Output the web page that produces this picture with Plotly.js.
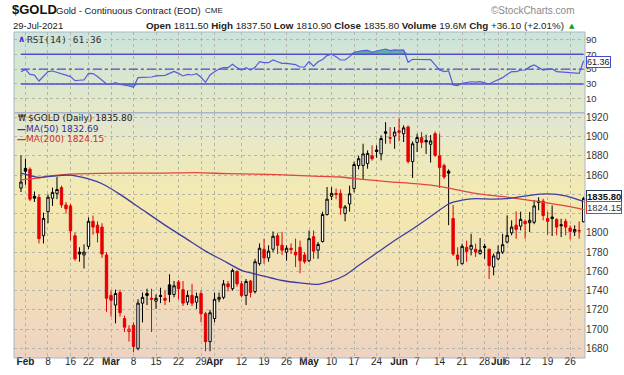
<!DOCTYPE html>
<html><head><meta charset="utf-8">
<script src="https://cdn.plot.ly/plotly-3.0.1.min.js"></script>
<style>html,body{margin:0;padding:0;background:#fff;}#chart{width:624px;height:375px;}</style>
</head><body><div id="chart"></div>
<script>
// ---------- DATA ----------
const dates = [
"2021-01-29",
"2021-02-01","2021-02-02","2021-02-03","2021-02-04","2021-02-05",
"2021-02-08","2021-02-09","2021-02-10","2021-02-11","2021-02-12",
"2021-02-16","2021-02-17","2021-02-18","2021-02-19",
"2021-02-22","2021-02-23","2021-02-24","2021-02-25","2021-02-26",
"2021-03-01","2021-03-02","2021-03-03","2021-03-04","2021-03-05",
"2021-03-08","2021-03-09","2021-03-10","2021-03-11","2021-03-12",
"2021-03-15","2021-03-16","2021-03-17","2021-03-18","2021-03-19",
"2021-03-22","2021-03-23","2021-03-24","2021-03-25","2021-03-26",
"2021-03-29","2021-03-30","2021-03-31","2021-04-01",
"2021-04-05","2021-04-06","2021-04-07","2021-04-08","2021-04-09",
"2021-04-12","2021-04-13","2021-04-14","2021-04-15","2021-04-16",
"2021-04-19","2021-04-20","2021-04-21","2021-04-22","2021-04-23",
"2021-04-26","2021-04-27","2021-04-28","2021-04-29","2021-04-30",
"2021-05-03","2021-05-04","2021-05-05","2021-05-06","2021-05-07",
"2021-05-10","2021-05-11","2021-05-12","2021-05-13","2021-05-14",
"2021-05-17","2021-05-18","2021-05-19","2021-05-20","2021-05-21",
"2021-05-24","2021-05-25","2021-05-26","2021-05-27","2021-05-28",
"2021-06-01","2021-06-02","2021-06-03","2021-06-04",
"2021-06-07","2021-06-08","2021-06-09","2021-06-10","2021-06-11",
"2021-06-14","2021-06-15","2021-06-16","2021-06-17","2021-06-18",
"2021-06-21","2021-06-22","2021-06-23","2021-06-24","2021-06-25",
"2021-06-28","2021-06-29","2021-06-30","2021-07-01","2021-07-02",
"2021-07-06","2021-07-07","2021-07-08","2021-07-09",
"2021-07-12","2021-07-13","2021-07-14","2021-07-15","2021-07-16",
"2021-07-19","2021-07-20","2021-07-21","2021-07-22","2021-07-23",
"2021-07-26","2021-07-27","2021-07-28","2021-07-29"];

const open = [1846.5,
1867,1866,1838,1837,1797, 1822,1836,1841,1847,1829, 1828,1797,1780,1777, 1786,1812,1808,1806,1777,
1735,1725,1738,1711,1697.5, 1704,1680,1727,1737,1732, 1729,1735,1732,1746,1736, 1749,1741,1728,1735,1728,
1737,1716,1687,1711, 1731,1733,1747,1742,1760, 1747,1735,1750,1739,1768, 1783,1774,1783,1797,1787,
1780,1784,1780,1785,1777, 1771,1796,1782,1791,1819, 1838,1841,1841,1820,1830, 1846,1870,1870,1872,1880,
1886,1882,1905,1899,1900.6, 1906,1903,1910,1874, 1894,1899,1896,1892,1903, 1880,1870,1864,1815,1777,
1768,1785,1783,1783,1778.5, 1786,1783,1764.5,1773,1780, 1790.4,1800,1808,1807, 1812,1810.5,1811,1833,1833,
1815,1816.5,1814,1808.5,1812, 1805,1801,1802.5,1811.5];

const high = [1880.5,
1877,1868,1843,1840,1821, 1840,1847,1858,1849,1832, 1830,1800,1785,1788, 1816,1818,1812,1810,1780,
1740,1741,1741,1714,1704, 1707,1731,1738,1742,1742, 1736,1743,1740,1757,1750, 1751,1750,1740,1747,1738,
1740,1718,1720,1738, 1738,1751,1750,1763,1761, 1750,1752,1751,1773,1789, 1794,1787,1801.5,1800,1801,
1787,1789,1794,1792,1780, 1802.5,1802.5,1790.5,1822,1847.6, 1847.6,1846,1845,1829,1849, 1874,1880,1892.6,1885.7,1890.9,
1890.9,1901.3,1915,1909.9,1909.9, 1919,1911.6,1911.6,1895, 1903,1904.7,1902,1901.5,1905.4, 1903,1872,1866,1829,1785,
1788.7,1792,1799,1788.7,1794.6, 1788.7,1783.5,1778.5,1787,1799, 1818,1813,1822.3,1822, 1814,1821.6,1834,1837,1835.5,
1822,1828.5,1815,1814.6,1814.6, 1807.8,1807.8,1811.9,1837.5];

const low = [1842.4,
1850,1833,1832,1789,1789, 1810,1828,1835,1826,1820, 1792,1771,1770,1763, 1783,1798,1790,1774,1718,
1713,1706,1713,1697,1687, 1676,1678,1707,1725,1697, 1721,1727,1725,1728,1733, 1731,1724,1725,1724,1721,
1707,1677,1677,1707, 1728,1731,1739,1740,1744, 1733,1725,1733,1737,1766, 1768,1770,1780,1778,1777,
1771,1778,1764.5,1758,1768, 1769.6,1773,1773,1790,1818, 1834,1835,1818.8,1812,1822, 1842,1866,1856,1866.6,1875,
1878,1875.3,1892.6,1892.6,1887.4, 1895,1894.3,1872,1857, 1884,1888,1882,1873,1879, 1846.6,1856,1808,1776,1765.5,
1767,1770,1776.6,1775,1777.3, 1773,1752,1755.8,1771.4,1778, 1789,1797.4,1793.9,1802.6, 1793.9,1800.8,1809,1823.4,1813,
1798,1796.7,1797.4,1795.6,1797.4, 1793.2,1796.7,1793.9,1810.9];

const close = [1852.8,
1864,1835,1836,1794,1815, 1837,1842,1845,1829,1825, 1802,1773,1778,1780, 1812,1806,1800,1778,1732,
1730,1737,1717,1702,1700, 1682,1727,1733,1735,1731, 1732,1734,1730,1736,1745, 1742,1727,1735,1727,1734,
1716,1687,1717,1731, 1733,1747,1744,1761,1747, 1735,1749.5,1738,1770,1784, 1774,1781,1796.5,1787,1782,
1784,1782.5,1777,1771,1770, 1794,1781,1788,1819,1835, 1841,1840,1826,1827,1840.6, 1871,1877,1882,1882.5,1877,
1884.5,1898,1903.5,1898.4,1904.7, 1904.5,1909,1874,1892.5, 1899,1894,1894.5,1895.5,1880.5, 1868,1858,1862,1778,1772.5,
1786,1780.7,1787,1780,1782, 1785,1766,1776,1780,1787.7, 1797.4,1806,1803.6,1814, 1809.5,1813,1828,1831.5,1818,
1812,1815,1806,1807.5,1806, 1801.5,1803.5,1802,1835.8];

const ma50Dates = ["2021-01-29","2021-02-04","2021-02-08","2021-02-16","2021-02-22","2021-02-25","2021-03-03","2021-03-10",
"2021-03-17","2021-03-24","2021-03-30","2021-04-06","2021-04-12","2021-04-19","2021-04-23","2021-04-29","2021-05-05",
"2021-05-10","2021-05-13","2021-05-18","2021-05-24","2021-05-28","2021-06-04","2021-06-10","2021-06-16","2021-06-21",
"2021-06-24","2021-06-30","2021-07-07","2021-07-13","2021-07-19","2021-07-23","2021-07-29"];
const ma50 = [1862,1857.5,1858.5,1860,1856,1851,1840,1824,1808,1793,1781,1771,1761,1755,1750.5,1748,1746.5,
1750,1756,1766,1779,1792,1804,1817,1830,1834,1835.5,1835,1836,1839,1840.5,1838.5,1832.69];

const ma200Dates = ["2021-01-29","2021-02-04","2021-02-08","2021-02-16","2021-03-02","2021-03-16","2021-03-26",
"2021-04-07","2021-04-22","2021-05-04","2021-05-12","2021-05-19","2021-05-27","2021-06-09","2021-06-16",
"2021-06-24","2021-07-06","2021-07-15","2021-07-23","2021-07-29"];
const ma200 = [1855,1857,1859,1861,1862,1862,1862.5,1861.5,1860.5,1859,1858,1855.5,1853,1850,1846.5,
1841,1837,1832.5,1828,1824.15];

const rsi = [46.6,
49.7,43,42,34,40.8, 46.6,47.5,46,43.5,42, 40,34.5,35,35.4, 44.3,44,40,35,30,
29.5,31.7,29.5,28.6,27.3, 25.5,38.5,39,39.2,39.4, 40.8,41.5,41.7,44.3,47, 44.3,40.8,43,42.1,43.9,
39,32.2,42.1,46.6, 50.2,52,52,56.5,52, 48.8,52,48.8,52.4,60, 58.7,58.7,62.3,60,57.8,
57.8,57,56,52.9,52.9, 60,54,60,63,68.2, 70,66.8,62.3,62.3,66.8, 72.7,74,75,75.3,72.7,
74.4,76,77.1,74.9,75.8, 75.5,75.8,59.2,63.2, 63,62.8,62.8,62.8,55.6, 48.8,46.6,47.5,28.6,27.7,
30.9,32.2,33,32.5,33.1, 31.5,29.9,33,35.4,38.5, 43,46.6,46.6,48.5, 48.8,53,55.6,52,48.8,
50,50.2,46.6,46,45.7, 45.3,44.5,44.3,61.36];

const tickDates = ["2021-02-01","2021-02-08","2021-02-16","2021-02-22","2021-03-01","2021-03-08","2021-03-15",
"2021-03-22","2021-03-29","2021-04-01","2021-04-12","2021-04-19","2021-04-26","2021-05-03","2021-05-10",
"2021-05-17","2021-05-24","2021-06-01","2021-06-07","2021-06-14","2021-06-21","2021-06-28","2021-07-01",
"2021-07-06","2021-07-12","2021-07-19","2021-07-26"];
const tickText = ["<b>Feb</b>","8","16","22","<b>Mar</b>","8","15","22","29","<b>Apr</b>","12","19","26",
"<b>May</b>","10","17","24","<b>Jun</b>","7","14","21","28","<b>Jul</b>","6","12","19","26"];
const priceTicks = [1680,1700,1720,1740,1760,1780,1800,1820,1840,1860,1880,1900,1920];
// labels of 1820 and 1840 sit under the value tags in the reference
const priceTickText = ["1680","1700","1720","1740","1760","1780","1800","","","1860","1880","1900","1920"];
const rsiTicks = [10,30,50,70,90];
const rsiUpper = 70, rsiMid = 50, rsiLower = 30;

// ---------- LAYOUT HELPERS ----------
const PL = 14, PR = 585, PT = 32, PB = 358;
const px = x => (x - PL) / (PR - PL);
const py = y => (PB - y) / (PB - PT);
const mainTop = py(113), rsiBot = py(112.5);

function grad(stops){
  const s = stops.map(([o,c]) => `<stop offset='${o}' stop-color='${c}'/>`).join('');
  const svg = `<svg xmlns='http://www.w3.org/2000/svg' width='10' height='100' viewBox='0 0 10 100' preserveAspectRatio='none'><defs><linearGradient id='g' x1='0' y1='0' x2='0' y2='1'>${s}</linearGradient></defs><rect width='10' height='100' fill='url(#g)'/></svg>`;
  return 'data:image/svg+xml;charset=utf-8,' + encodeURIComponent(svg);
}

// ---------- TRACES ----------
const isUp = close.map((c,i) => i === 0 ? true : c >= close[i-1]);
function subset(flag){
  const o = {x:[],open:[],high:[],low:[],close:[]};
  dates.forEach((d,i) => { if (isUp[i] === flag){ o.x.push(d); o.open.push(open[i]); o.high.push(high[i]); o.low.push(low[i]); o.close.push(close[i]); }});
  return o;
}
const blk = subset(true), red = subset(false);
const RED = '#e40000';

const traces = [];
traces.push(Object.assign({type:'candlestick', xaxis:'x', yaxis:'y', whiskerwidth:0, hoverinfo:'skip',
  increasing:{line:{color:'#000',width:1}, fillcolor:'#ffffff'},
  decreasing:{line:{color:'#000',width:1}, fillcolor:'#000000'}}, blk));
traces.push(Object.assign({type:'candlestick', xaxis:'x', yaxis:'y', whiskerwidth:0, hoverinfo:'skip',
  increasing:{line:{color:RED,width:1}, fillcolor:'#fff4f4'},
  decreasing:{line:{color:RED,width:1}, fillcolor:RED}}, red));
traces.push({type:'scatter', mode:'lines', x:ma200Dates, y:ma200, xaxis:'x', yaxis:'y', line:{color:'#e2463c', width:1.3, shape:'spline', smoothing:0.6}, hoverinfo:'skip'});
traces.push({type:'scatter', mode:'lines', x:ma50Dates, y:ma50, xaxis:'x', yaxis:'y', line:{color:'#3c3ca0', width:1.3, shape:'spline', smoothing:0.6}, hoverinfo:'skip'});

// RSI panel
const FILL = 'rgba(70,170,150,0.85)';
traces.push({type:'scatter', mode:'lines', x:dates, y:dates.map(()=>rsiUpper), xaxis:'x2', yaxis:'y2', line:{width:0}, hoverinfo:'skip'});
traces.push({type:'scatter', mode:'lines', x:dates, y:rsi.map(v=>Math.max(v,rsiUpper)), xaxis:'x2', yaxis:'y2', line:{width:0}, fill:'tonexty', fillcolor:FILL, hoverinfo:'skip'});
traces.push({type:'scatter', mode:'lines', x:dates, y:dates.map(()=>rsiLower), xaxis:'x2', yaxis:'y2', line:{width:0}, hoverinfo:'skip'});
traces.push({type:'scatter', mode:'lines', x:dates, y:rsi.map(v=>Math.min(v,rsiLower)), xaxis:'x2', yaxis:'y2', line:{width:0}, fill:'tonexty', fillcolor:FILL, hoverinfo:'skip'});
const LVL = '#5050cc';
traces.push({type:'scatter', mode:'lines', x:[dates[0],dates[dates.length-1]], y:[rsiUpper,rsiUpper], xaxis:'x2', yaxis:'y2', line:{color:LVL,width:1.4}, hoverinfo:'skip'});
traces.push({type:'scatter', mode:'lines', x:[dates[0],dates[dates.length-1]], y:[rsiLower,rsiLower], xaxis:'x2', yaxis:'y2', line:{color:LVL,width:1.4}, hoverinfo:'skip'});
traces.push({type:'scatter', mode:'lines', x:[dates[0],dates[dates.length-1]], y:[rsiMid,rsiMid], xaxis:'x2', yaxis:'y2', line:{color:LVL,width:1.4,dash:'dashdot'}, hoverinfo:'skip'});
traces.push({type:'scatter', mode:'lines', x:dates, y:rsi, xaxis:'x2', yaxis:'y2', line:{color:'#5a5ae0', width:1.2}, hoverinfo:'skip'});

// ---------- LAYOUT ----------
const GRID = '#b4b6a8';
const xBase = {type:'category', categoryorder:'array', categoryarray:dates, range:[-1.55,125.3],
  tickvals:tickDates, ticktext:tickText, showgrid:true, gridcolor:GRID, griddash:'dot', gridwidth:1,
  ticks:'', zeroline:false, showline:false, fixedrange:true, rangeslider:{visible:false}, tickangle:0};
const SANS = 'Liberation Sans, Arial, sans-serif';
const tickFont = {family:SANS, size:10, color:'#222'};

const layout = {
  width:624, height:375, margin:{l:PL, r:624-PR, t:PT, b:375-PB},
  paper_bgcolor:'#ffffff', plot_bgcolor:'rgba(0,0,0,0)', showlegend:false, boxgap:0.25,
  xaxis: Object.assign({}, xBase, {anchor:'y', tickfont:tickFont, ticklabelstandoff:-4}),
  xaxis2: Object.assign({}, xBase, {anchor:'y2', matches:'x', showticklabels:false}),
  yaxis: {domain:[0, mainTop], range:[1670,1924.5], side:'right', tickvals:priceTicks, ticktext:priceTickText, showgrid:true,
    gridcolor:GRID, griddash:'dot', zeroline:false, ticks:'', tickfont:Object.assign({},tickFont,{color:'#333'}), fixedrange:true},
  yaxis2: {domain:[rsiBot, 1], range:[-8.4,100], side:'right', tickvals:rsiTicks, showgrid:true,
    gridcolor:GRID, griddash:'dot', zeroline:false, ticks:'', tickfont:Object.assign({},tickFont,{color:'#333', size:9.5}), fixedrange:true},
  images:[
    {source:grad([[0,'#dfe4d3'],[0.12,'#e9e9c6'],[0.35,'#f4e9b0'],[0.6,'#f2e2b6'],[1,'#eed3c1']]),
     xref:'paper', yref:'paper', x:0, y:mainTop, sizex:1, sizey:mainTop, xanchor:'left', yanchor:'top', sizing:'stretch', layer:'below'},
    {source:grad([[0,'#cde4dc'],[0.55,'#d8e6d0'],[1,'#e5e9c6']]),
     xref:'paper', yref:'paper', x:0, y:1, sizex:1, sizey:1-rsiBot, xanchor:'left', yanchor:'top', sizing:'stretch', layer:'below'}
  ],
  shapes:[
    {type:'rect', xref:'paper', yref:'paper', x0:0, x1:1, y0:0, y1:mainTop, line:{color:'#a7b6c6', width:1}},
    {type:'rect', xref:'paper', yref:'paper', x0:0, x1:1, y0:rsiBot, y1:1, line:{color:'#a7b6c6', width:1}}
  ],
  annotations:[]
};

const A = layout.annotations;
function ann(x, y, text, font, xanchor, extra){
  A.push(Object.assign({xref:'paper', yref:'paper', x:px(x), y:py(y), text:text, showarrow:false,
    xanchor:xanchor||'left', yanchor:'middle', font:font}, extra||{}));
}
const VER = 'DejaVu Sans, Verdana, sans-serif';
// header
ann(10, 10, '<b>$GOLD</b>', {family:SANS, size:13, color:'#111'});
ann(54, 10.5, 'Gold - Continuous Contract (EOD)', {family:SANS, size:9.5, color:'#222'});
ann(203, 10.5, 'CME', {family:SANS, size:8, color:'#222'});
ann(577, 10.5, '©StockCharts.com', {family:SANS, size:10, color:'#8a8a8a'}, 'right');
ann(11, 25.5, '29-Jul-2021', {family:SANS, size:9.5, color:'#222'});
ann(566, 25.5, '<b>Open</b> 1811.50 <b>High</b> 1837.50 <b>Low</b> 1810.90 <b>Close</b> 1835.80 <b>Volume</b> 19.6M <b>Chg</b> +36.10 (+2.01%)', {family:SANS, size:9.8, color:'#222'}, 'right');
ann(567, 26, '▲', {family:'DejaVu Sans', size:7, color:'#10a010'});
// RSI label
ann(16, 39.5, '<b>∧</b>', {family:'DejaVu Sans', size:9, color:'#3a3ad0'});
ann(25, 39.5, 'RSI(14) 61.36', {family:'DejaVu Sans Mono, monospace', size:9.5, color:'#333'});
// main legend
ann(16, 118, '₩', {family:'DejaVu Sans', size:8, color:'#222'});
ann(26, 118, '$GOLD (Daily) 1835.80', {family:VER, size:9, color:'#222'});
ann(15, 128.5, '<b>—</b>MA(50) 1832.69', {family:VER, size:9, color:'#3030a8'});
ann(15, 139, '<b>—</b>MA(200) 1824.15', {family:VER, size:9, color:'#e02a2a'});
// right tags
ann(586, 61.5, '61.36', {family:SANS, size:9, color:'#222'}, 'left', {bgcolor:'#ffffff', bordercolor:'#4848d0', borderwidth:1, borderpad:0});
ann(586, 196.5, '<b>1835.80</b>', {family:SANS, size:9.5, color:'#111'}, 'left', {bgcolor:'#ffffff', bordercolor:'#2a3a5a', borderwidth:1, borderpad:0});
ann(586, 207, '1824.15', {family:SANS, size:9.5, color:'#333'}, 'left', {bgcolor:'#ffffff', bordercolor:'#e03030', borderwidth:1, borderpad:0});

Plotly.newPlot('chart', traces, layout, {staticPlot:true, displayModeBar:false});
</script></body></html>
